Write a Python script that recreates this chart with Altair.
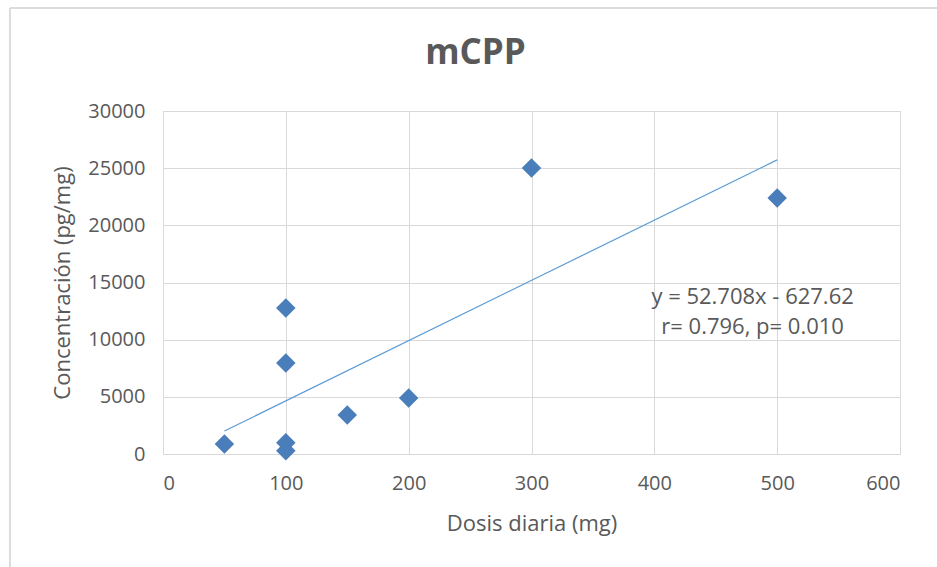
import altair as alt
import pandas as pd

dose = [50, 100, 100, 100, 100, 150, 200, 300, 500]
conc = [880, 12780, 7960, 980, 280, 3410, 4900, 25010, 22390]

slope = 52.708
intercept = -627.62
trend_x = [50, 500]
trend_y = [slope * v + intercept for v in trend_x]

eq_lines = ["y = 52.708x - 627.62", "r= 0.796, p= 0.010"]
eq_x = [480, 480]
eq_y = [13700, 11150]

FONT = "Open Sans"
GREY = "#595959"

pts = pd.DataFrame({"dose": dose, "conc": conc})
trend = pd.DataFrame({"dose": trend_x, "conc": trend_y})
eq = pd.DataFrame({"dose": eq_x, "conc": eq_y, "t": eq_lines})

xscale = alt.Scale(domain=[0, 600], nice=False, zero=True)
yscale = alt.Scale(domain=[0, 30000], nice=False)

xaxis = alt.Axis(values=[0, 100, 200, 300, 400, 500, 600], title="Dosis diaria (mg)",
                 grid=True, gridColor="#d9d9d9", domain=False, ticks=False, format="d",
                 labelFont=FONT, labelFontSize=20, labelColor=GREY, labelPadding=19,
                 titleFont=FONT, titleFontSize=22, titleFontWeight="normal", titleColor=GREY,
                 titlePadding=20)
yaxis = alt.Axis(values=[0, 5000, 10000, 15000, 20000, 25000, 30000],
                 title="Concentración (pg/mg)", format="d",
                 grid=True, gridColor="#d9d9d9", domain=False, ticks=False,
                 labelFont=FONT, labelFontSize=20, labelColor=GREY, labelPadding=18,
                 titleFont=FONT, titleFontSize=22, titleFontWeight="normal", titleColor=GREY,
                 titlePadding=13)

points = alt.Chart(pts).mark_point(shape="diamond", filled=True, size=380,
                                   color="#4a7ebb", opacity=1).encode(
    x=alt.X("dose:Q", scale=xscale, axis=xaxis),
    y=alt.Y("conc:Q", scale=yscale, axis=yaxis),
)

line = alt.Chart(trend).mark_line(color="#5b9bd5", strokeWidth=1.2).encode(
    x=alt.X("dose:Q", scale=xscale),
    y=alt.Y("conc:Q", scale=yscale),
)

text = alt.Chart(eq).mark_text(font=FONT, fontSize=22, color=GREY, align="center",
                               baseline="middle").encode(
    x=alt.X("dose:Q", scale=xscale),
    y=alt.Y("conc:Q", scale=yscale),
    text="t:N",
)

frame = alt.Chart(pts).mark_rule(color="#dcdcdc", strokeWidth=2).encode(
    x=alt.value(-153), x2=alt.value(-153), y=alt.value(-103), y2=alt.value(460))
frame_top = alt.Chart(pts).mark_rule(color="#dcdcdc", strokeWidth=2).encode(
    x=alt.value(-153), x2=alt.value(780), y=alt.value(-103), y2=alt.value(-103))

chart = alt.layer(frame, frame_top, line, points, text).properties(
    width=737, height=343,
    title=alt.TitleParams("mCPP", font=FONT, fontSize=35, fontWeight="bold", color=GREY,
                          anchor="middle", offset=0, baseline="alphabetic", dy=92, dx=-56),
    autosize=alt.AutoSizeParams(type="none"),
    padding={"left": 163, "top": 111, "right": 37, "bottom": 113},
    background="white",
).configure_view(stroke="#d9d9d9")

chart.save("out.html", embed_options={"renderer": "svg", "actions": False})
